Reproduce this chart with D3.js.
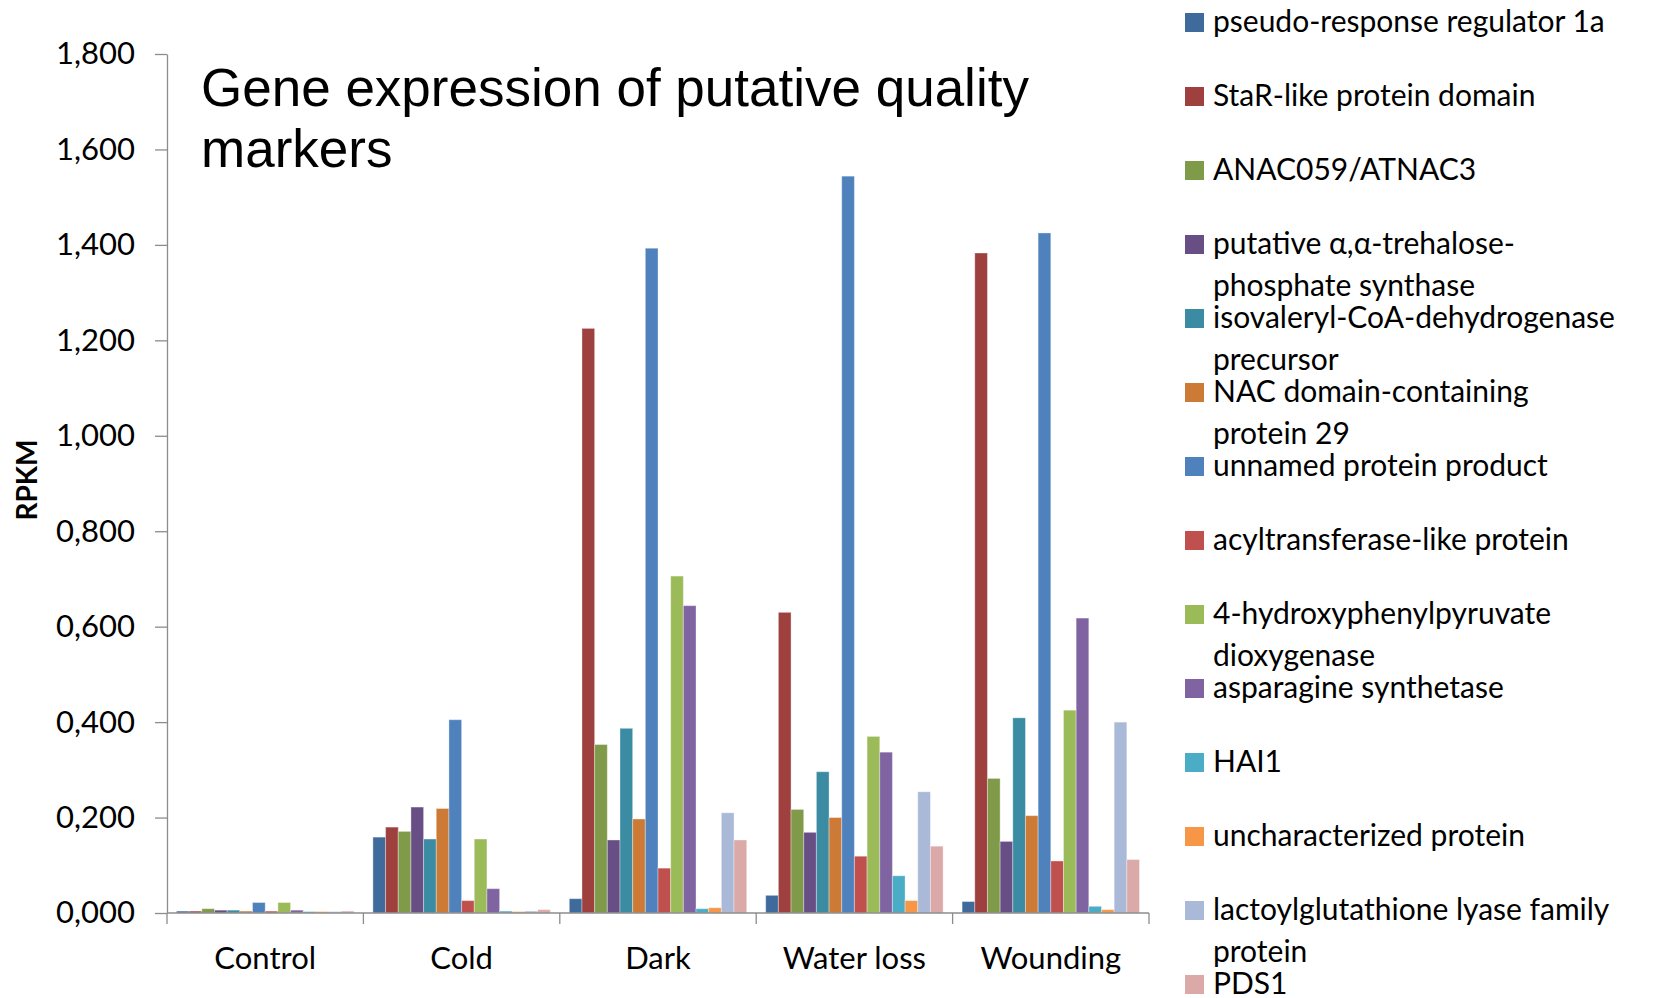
<!DOCTYPE html>
<html>
<head>
<meta charset="utf-8">
<script src="https://cdn.jsdelivr.net/npm/d3@7"></script>
<style>
  html, body { margin: 0; padding: 0; background: #ffffff; }
  svg { display: block; }
  text { fill: #000000; }
</style>
</head>
<body>
<svg id="chart" width="1660" height="998"></svg>
<script>
// Treatment groups along the x axis
const categories = ["Control", "Cold", "Dark", "Water loss", "Wounding"];

// Gene names (legend entries; "\n" marks where the legend wraps a label)
const genes = [
  "pseudo-response regulator 1a",
  "StaR-like protein domain",
  "ANAC059/ATNAC3",
  "putative \u03b1,\u03b1-trehalose-\nphosphate synthase",
  "isovaleryl-CoA-dehydrogenase\nprecursor",
  "NAC domain-containing\nprotein 29",
  "unnamed protein product",
  "acyltransferase-like protein",
  "4-hydroxyphenylpyruvate\ndioxygenase",
  "asparagine synthetase",
  "HAI1",
  "uncharacterized protein",
  "lactoylglutathione lyase family\nprotein",
  "PDS1"
];

// RPKM per gene (same order as genes) for each treatment
const control   = [0.004, 0.004, 0.009, 0.006, 0.006, 0.004, 0.022, 0.004, 0.022, 0.006, 0.003, 0.003, 0.003, 0.004];
const cold      = [0.159, 0.180, 0.171, 0.222, 0.155, 0.219, 0.405, 0.026, 0.155, 0.051, 0.004, 0.003, 0.004, 0.007];
const dark      = [0.030, 1.225, 0.353, 0.153, 0.387, 0.197, 1.393, 0.094, 0.706, 0.644, 0.009, 0.011, 0.210, 0.153];
const waterLoss = [0.037, 0.630, 0.217, 0.169, 0.296, 0.200, 1.544, 0.119, 0.370, 0.337, 0.078, 0.026, 0.254, 0.140];
const wounding  = [0.024, 1.383, 0.282, 0.150, 0.409, 0.204, 1.425, 0.109, 0.425, 0.618, 0.014, 0.007, 0.400, 0.112];

// Y axis ticks and their labels (decimal comma)
const yTicks = [0, 0.2, 0.4, 0.6, 0.8, 1.0, 1.2, 1.4, 1.6, 1.8];
const yTickLabels = ["0,000", "0,200", "0,400", "0,600", "0,800", "1,000", "1,200", "1,400", "1,600", "1,800"];

// Series colours
const colors = [
  "#3F6A9C", "#9E403E", "#7F9A48", "#674F85", "#3B8BA3", "#CC7A36", "#4F81BD",
  "#C0504D", "#9BBB59", "#8064A2", "#4BACC6", "#F79646", "#AAB9D8", "#DAA9A8"
];

const rows = [control, cold, dark, waterLoss, wounding];

const svg = d3.select("#chart");
const uiFont = "Lato, 'Open Sans', sans-serif";

const plot = { left: 167, right: 1149, top: 54, bottom: 913 };

const x0 = d3.scaleBand().domain(categories).range([plot.left, plot.right]).padding(0);
const x1 = d3.scaleBand().domain(d3.range(genes.length))
  .range([0, x0.bandwidth()]).paddingInner(0).paddingOuter(0.75);
const y = d3.scaleLinear().domain([0, 1.8]).range([plot.bottom, plot.top]);

// Bars
const groups = svg.append("g").selectAll("g")
  .data(categories)
  .join("g")
  .attr("transform", c => `translate(${x0(c)},0)`);

groups.selectAll("rect")
  .data((c, ci) => rows[ci].map((v, gi) => ({ v, gi })))
  .join("rect")
  .attr("x", d => x1(d.gi))
  .attr("y", d => y(d.v))
  .attr("width", x1.bandwidth())
  .attr("height", d => y(0) - y(d.v))
  .attr("fill", d => colors[d.gi])
  .attr("stroke", "rgba(255,255,255,0.35)")
  .attr("stroke-width", 1);

// Y axis
const yAxis = d3.axisLeft(y)
  .tickValues(yTicks)
  .tickFormat((d, i) => yTickLabels[i])
  .tickSize(12)
  .tickPadding(20)
  .tickSizeOuter(0);

const gy = svg.append("g")
  .attr("transform", `translate(${plot.left},0)`)
  .call(yAxis);
gy.select(".domain").attr("stroke", "#8c8c8c").attr("stroke-width", 1.3);
gy.selectAll(".tick line").attr("stroke", "#8c8c8c").attr("stroke-width", 1.3);
gy.selectAll(".tick text")
  .attr("font-family", uiFont)
  .attr("font-size", 31)
  .attr("fill", "#000");

// X axis: baseline with boundary ticks between groups
const boundaries = categories.map(c => x0(c)).concat([plot.right]);
svg.append("line")
  .attr("x1", plot.left).attr("x2", plot.right)
  .attr("y1", y(0)).attr("y2", y(0))
  .attr("stroke", "#8c8c8c").attr("stroke-width", 1.3);
svg.append("g").selectAll("line")
  .data(boundaries)
  .join("line")
  .attr("x1", d => d).attr("x2", d => d)
  .attr("y1", y(0)).attr("y2", y(0) + 11)
  .attr("stroke", "#8c8c8c").attr("stroke-width", 1.3);

svg.append("g").selectAll("text")
  .data(categories)
  .join("text")
  .attr("x", c => x0(c) + x0.bandwidth() / 2)
  .attr("y", 969)
  .attr("text-anchor", "middle")
  .attr("font-family", uiFont)
  .attr("font-size", 31)
  .text(c => c);

// Y axis title
svg.append("text")
  .attr("transform", "translate(37,480) rotate(-90)")
  .attr("text-anchor", "middle")
  .attr("font-family", uiFont)
  .attr("font-weight", "bold")
  .attr("font-size", 28)
  .text("RPKM");

// Chart title
const title = svg.append("text")
  .attr("x", 201)
  .attr("y", 106)
  .attr("font-family", "'Liberation Sans', Arial, sans-serif")
  .attr("font-size", 53);
title.append("tspan").attr("x", 201).attr("dy", 0).text("Gene expression of putative quality");
title.append("tspan").attr("x", 201).attr("dy", 61).text("markers");

// Legend
const legend = svg.append("g");
const rowStep = 74;
genes.forEach((name, i) => {
  const cy = 22.5 + i * rowStep;
  legend.append("rect")
    .attr("x", 1185).attr("y", cy - 9.5)
    .attr("width", 19).attr("height", 19)
    .attr("fill", colors[i]);
  const t = legend.append("text")
    .attr("font-family", uiFont)
    .attr("font-size", 30);
  name.split("\n").forEach((line, li) => {
    t.append("tspan")
      .attr("x", 1213)
      .attr("y", cy + 9.5 + li * 42)
      .text(line);
  });
});
</script>
</body>
</html>
